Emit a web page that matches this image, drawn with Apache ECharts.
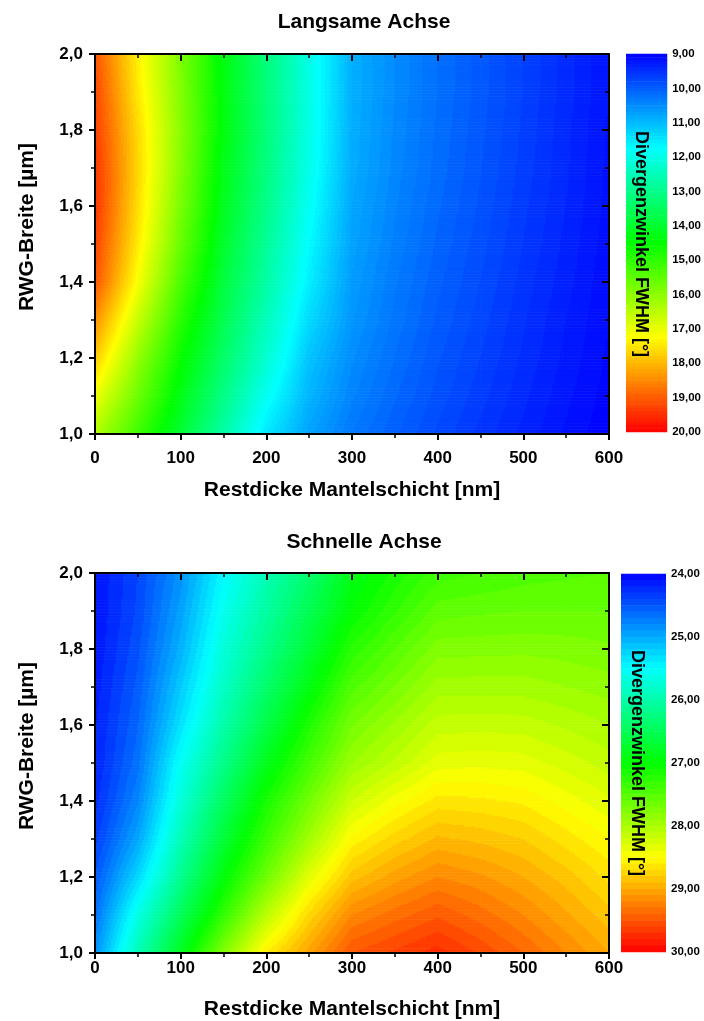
<!DOCTYPE html>
<html><head><meta charset="utf-8">
<script src="https://cdn.jsdelivr.net/npm/echarts@6/dist/echarts.min.js"></script>
<style>html,body{margin:0;padding:0;background:#fff}#c{width:704px;height:1021px}</style>
</head><body><div id="c"></div>
<script>
// ---- data ----
const xValues = [0, 50, 100, 150, 200, 250, 300, 350, 400, 450, 500, 550, 600];   // Restdicke [nm]
const yValues = [1.0, 1.1, 1.2, 1.3, 1.4, 1.5, 1.6, 1.7, 1.8, 1.9, 2.0];           // RWG-Breite [µm]

// Langsame Achse, FWHM [°], one row per yValue, one column per xValue
const slowRows = [
  [16.4, 15.18, 13.95, 12.72, 11.5, 10.75, 10.3, 10.02, 9.78, 9.57, 9.37, 9.18, 9.02],
  [17.1, 15.67, 14.28, 13.08, 11.89, 10.95, 10.42, 10.12, 9.86, 9.64, 9.43, 9.23, 9.05],
  [17.85, 16.1, 14.59, 13.41, 12.26, 11.11, 10.52, 10.2, 9.92, 9.7, 9.48, 9.27, 9.08],
  [18.45, 16.67, 14.95, 13.65, 12.5, 11.36, 10.62, 10.27, 9.98, 9.75, 9.52, 9.3, 9.1],
  [19.1, 17.2, 15.32, 13.86, 12.73, 11.59, 10.68, 10.32, 10.03, 9.8, 9.56, 9.34, 9.12],
  [19.3, 17.48, 15.62, 14.04, 12.88, 11.73, 10.75, 10.38, 10.08, 9.84, 9.6, 9.37, 9.14],
  [19.45, 17.63, 15.81, 14.18, 13.03, 11.87, 10.8, 10.42, 10.12, 9.88, 9.63, 9.4, 9.16],
  [19.45, 17.71, 15.94, 14.27, 13.13, 11.98, 10.86, 10.46, 10.16, 9.91, 9.66, 9.42, 9.17],
  [19.35, 17.66, 15.98, 14.36, 13.2, 12.03, 10.88, 10.48, 10.18, 9.93, 9.68, 9.43, 9.18],
  [19.25, 17.5, 15.9, 14.36, 13.2, 12.03, 10.9, 10.5, 10.2, 9.95, 9.7, 9.45, 9.2],
  [19.1, 17.4, 15.85, 14.36, 13.19, 12.03, 10.9, 10.5, 10.2, 9.95, 9.7, 9.45, 9.2]
];

// Schnelle Achse, FWHM [°]
const fastRows = [
  [24.85, 25.93, 26.81, 27.75, 28.6, 29.05, 29.5, 29.62, 29.75, 29.58, 29.4, 29.2, 29.0],
  [24.65, 25.64, 26.47, 27.28, 28.09, 28.73, 29.2, 29.35, 29.48, 29.35, 29.2, 29.02, 28.84],
  [24.5, 25.26, 26.16, 26.94, 27.64, 28.33, 28.85, 29.05, 29.2, 29.12, 29.0, 28.85, 28.67],
  [24.35, 24.97, 25.92, 26.68, 27.34, 27.94, 28.53, 28.75, 28.92, 28.87, 28.8, 28.65, 28.5],
  [24.25, 24.78, 25.71, 26.44, 27.12, 27.66, 28.2, 28.45, 28.64, 28.62, 28.58, 28.45, 28.32],
  [24.2, 24.66, 25.55, 26.2, 26.84, 27.39, 27.9, 28.12, 28.35, 28.37, 28.35, 28.25, 28.15],
  [24.18, 24.59, 25.33, 26.0, 26.59, 27.16, 27.69, 27.92, 28.15, 28.16, 28.15, 28.08, 28.0],
  [24.15, 24.53, 25.18, 25.84, 26.38, 26.91, 27.46, 27.7, 27.95, 27.95, 27.95, 27.9, 27.85],
  [24.12, 24.47, 25.04, 25.71, 26.2, 26.69, 27.23, 27.5, 27.75, 27.76, 27.77, 27.75, 27.72],
  [24.1, 24.42, 24.94, 25.59, 26.06, 26.52, 27.0, 27.28, 27.55, 27.58, 27.6, 27.6, 27.6],
  [24.1, 24.4, 24.85, 25.48, 25.93, 26.37, 26.88, 27.13, 27.35, 27.4, 27.45, 27.48, 27.5]
];

const slowRange = [9, 20];
const fastRange = [24, 30];
const slowBarTicks = [9, 10, 11, 12, 13, 14, 15, 16, 17, 18, 19, 20];
const fastBarTicks = [24, 25, 26, 27, 28, 29, 30];
const levelStep = 0.1;

// ---- helpers ----
const FONT = '"Liberation Sans", Arial, Helvetica, sans-serif';
function palette(t) {
  t = Math.max(0, Math.min(1, t));
  const st = [[0, 0, 0, 255], [0.25, 0, 255, 255], [0.5, 0, 255, 0], [0.75, 255, 255, 0], [1, 255, 0, 0]];
  for (let i = 0; i < 4; i++) {
    if (t <= st[i + 1][0]) {
      const f = (t - st[i][0]) / (st[i + 1][0] - st[i][0]);
      const r = Math.round(st[i][1] + f * (st[i + 1][1] - st[i][1]));
      const g = Math.round(st[i][2] + f * (st[i + 1][2] - st[i][2]));
      const b = Math.round(st[i][3] + f * (st[i + 1][3] - st[i][3]));
      return 'rgb(' + r + ',' + g + ',' + b + ')';
    }
  }
  return 'rgb(255,0,0)';
}
function levelColors(range) {
  const n = Math.round((range[1] - range[0]) / levelStep);
  const c = [];
  for (let k = 0; k < n; k++) c.push(palette((k + 0.5) / n));
  return c;
}
function cells(rows) {
  const out = [];
  for (let i = 0; i < yValues.length - 1; i++)
    for (let j = 0; j < xValues.length - 1; j++)
      out.push([xValues[j], yValues[i], xValues[j + 1], yValues[i + 1],
        rows[i][j], rows[i][j + 1], rows[i + 1][j], rows[i + 1][j + 1]]);
  return out;
}
function heatRender(range, colors) {
  const lo = range[0], n = colors.length;
  return function (params, api) {
    const p0 = api.coord([api.value(0), api.value(1)]);
    const p1 = api.coord([api.value(2), api.value(3)]);
    const a = api.value(4), b = api.value(5), c = api.value(6), d = api.value(7);
    const left = Math.min(p0[0], p1[0]), right = Math.max(p0[0], p1[0]);
    const top = Math.min(p0[1], p1[1]), bottom = Math.max(p0[1], p1[1]);
    const W = right - left, H = bottom - top;
    const nx = Math.max(1, Math.round(W / 1.5)), ny = Math.max(1, Math.round(H / 1.5));
    const dx = W / nx, dy = H / ny;
    const children = [];
    for (let j = 0; j < ny; j++) {
      const s = 1 - (j + 0.5) / ny;
      let runStart = 0, runColor = null;
      for (let i = 0; i <= nx; i++) {
        let col = null;
        if (i < nx) {
          const u = (i + 0.5) / nx;
          const v = a * (1 - u) * (1 - s) + b * u * (1 - s) + c * (1 - u) * s + d * u * s;
          let k = Math.floor((v - lo) / levelStep);
          k = Math.max(0, Math.min(n - 1, k));
          col = colors[k];
        }
        if (col !== runColor) {
          if (runColor !== null) {
            children.push({ type: 'rect', silent: true,
              shape: { x: left + runStart * dx - 0.3, y: top + j * dy - 0.3, width: (i - runStart) * dx + 0.6, height: dy + 0.6 },
              style: { fill: runColor, stroke: null } });
          }
          runColor = col; runStart = i;
        }
      }
    }
    return { type: 'group', children: children };
  };
}
function barData(range) {
  const n = Math.round((range[1] - range[0]) / levelStep), d = [];
  for (let k = 0; k < n; k++) d.push([range[0] + k * levelStep, range[0] + (k + 1) * levelStep, k]);
  return d;
}
function barRender(colors) {
  return function (params, api) {
    const p0 = api.coord([0, api.value(0)]), p1 = api.coord([1, api.value(1)]);
    return { type: 'rect', silent: true,
      shape: { x: p0[0], y: Math.min(p0[1], p1[1]) - 0.3, width: p1[0] - p0[0], height: Math.abs(p1[1] - p0[1]) + 0.6 },
      style: { fill: colors[api.value(2)], stroke: null } };
  };
}
const lbl = { color: '#000', fontWeight: 'bold', fontFamily: FONT, fontSize: 17 };
function xMain(grid, margin) {
  return { type: 'value', gridIndex: grid, position: 'bottom', min: 0, max: 600, interval: 100, z: 10,
    axisLine: { show: true, onZero: false, lineStyle: { color: '#000', width: 2 } },
    axisTick: { show: true, inside: false, length: 6, lineStyle: { color: '#000', width: 2 } },
    minorTick: { show: true, splitNumber: 2, length: 4, lineStyle: { color: '#000', width: 1.5 } },
    splitLine: { show: false }, minorSplitLine: { show: false },
    axisLabel: Object.assign({ margin: margin, formatter: v => String(v) }, lbl) };
}
function xMirror(grid) {
  return { type: 'value', gridIndex: grid, position: 'top', min: 0, max: 600, interval: 100, z: 10,
    axisLine: { show: true, onZero: false, lineStyle: { color: '#000', width: 2 } },
    axisTick: { show: true, inside: true, length: 7, lineStyle: { color: '#000', width: 2 } },
    minorTick: { show: true, splitNumber: 2, length: 4, lineStyle: { color: '#000', width: 1.5 } },
    splitLine: { show: false }, axisLabel: { show: false } };
}
function yMain(grid) {
  return { type: 'value', gridIndex: grid, position: 'left', min: 1, max: 2, interval: 0.2, z: 10,
    axisLine: { show: true, onZero: false, lineStyle: { color: '#000', width: 2 } },
    axisTick: { show: true, inside: false, length: 6, lineStyle: { color: '#000', width: 2 } },
    minorTick: { show: true, splitNumber: 2, length: 4, lineStyle: { color: '#000', width: 1.5 } },
    splitLine: { show: false },
    axisLabel: Object.assign({ margin: 12, formatter: v => v.toFixed(1).replace('.', ',') }, lbl) };
}
function yMirror(grid) {
  return { type: 'value', gridIndex: grid, position: 'right', min: 1, max: 2, interval: 0.2, z: 10,
    axisLine: { show: true, onZero: false, lineStyle: { color: '#000', width: 2 } },
    axisTick: { show: true, inside: true, length: 7, lineStyle: { color: '#000', width: 2 } },
    minorTick: { show: true, splitNumber: 2, length: 4, lineStyle: { color: '#000', width: 1.5 } },
    splitLine: { show: false }, axisLabel: { show: false } };
}
function xBar(grid) {
  return { type: 'value', gridIndex: grid, min: 0, max: 1, show: false };
}
function yBar(grid, range, ticks) {
  return { type: 'value', gridIndex: grid, position: 'right', min: range[0], max: range[1], interval: 1, inverse: true,
    axisLine: { show: false }, axisTick: { show: false }, splitLine: { show: false },
    axisLabel: { show: true, margin: 5, color: '#000', fontWeight: 'bold', fontFamily: FONT, fontSize: 11.5,
      padding: [6, 0, 0, 0],
      formatter: v => ticks.indexOf(Math.round(v)) >= 0 ? v.toFixed(2).replace('.', ',') : '' } };
}
function txt(x, y, text, size, rot) {
  return { type: 'text', x: x, y: y, rotation: rot || 0, silent: true, z: 100,
    style: { text: text, fill: '#000', fontSize: size, fontWeight: 'bold', fontFamily: FONT, align: 'center', verticalAlign: 'middle' } };
}

const slowColors = levelColors(slowRange);
const fastColors = levelColors(fastRange);

const chart = echarts.init(document.getElementById('c'), null, { renderer: 'canvas' });
chart.setOption({
  animation: false,
  backgroundColor: '#fff',
  grid: [
    { left: 95, top: 54, width: 514, height: 380 },
    { left: 626, top: 54, width: 45, height: 378 },
    { left: 95, top: 573, width: 514, height: 380 },
    { left: 621, top: 574, width: 45, height: 378 }
  ],
  xAxis: [xMain(0, 16), xMirror(0), xBar(1), xMain(2, 7), xMirror(2), xBar(3)],
  yAxis: [yMain(0), yMirror(0), yBar(1, slowRange, slowBarTicks), yMain(2), yMirror(2), yBar(3, fastRange, fastBarTicks)],
  series: [
    { type: 'custom', name: 'Langsame Achse', xAxisIndex: 0, yAxisIndex: 0, clip: true,
      encode: { x: [0, 2], y: [1, 3] }, renderItem: heatRender(slowRange, slowColors), data: cells(slowRows) },
    { type: 'custom', name: 'Schnelle Achse', xAxisIndex: 3, yAxisIndex: 3, clip: true,
      encode: { x: [0, 2], y: [1, 3] }, renderItem: heatRender(fastRange, fastColors), data: cells(fastRows) },
    { type: 'custom', xAxisIndex: 2, yAxisIndex: 2, encode: { y: [0, 1] }, renderItem: barRender(slowColors), data: barData(slowRange) },
    { type: 'custom', xAxisIndex: 5, yAxisIndex: 5, encode: { y: [0, 1] }, renderItem: barRender(fastColors), data: barData(fastRange) }
  ],
  graphic: [
    txt(364, 22, 'Langsame Achse', 21),
    txt(364, 542, 'Schnelle Achse', 21),
    txt(352, 490, 'Restdicke Mantelschicht [nm]', 21),
    txt(352, 1009, 'Restdicke Mantelschicht [nm]', 21),
    txt(27, 227, 'RWG-Breite [µm]', 21, Math.PI / 2),
    txt(27, 746, 'RWG-Breite [µm]', 21, Math.PI / 2),
    txt(641, 244, 'Divergenzwinkel FWHM [°]', 18, -Math.PI / 2),
    txt(637, 763, 'Divergenzwinkel FWHM [°]', 18, -Math.PI / 2)
  ]
});
</script>
</body></html>
